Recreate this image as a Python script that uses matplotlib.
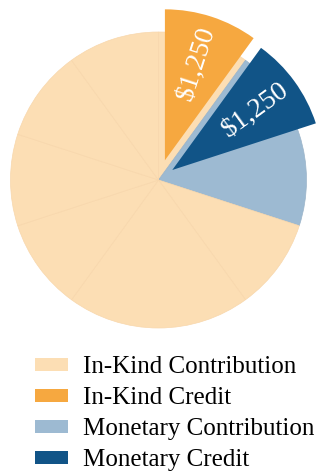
import numpy as np
import matplotlib
matplotlib.use("Agg")
import matplotlib.pyplot as plt
from matplotlib.patches import Patch
from matplotlib.colors import to_rgb

plt.rcParams['font.family'] = ['Liberation Serif', 'DejaVu Serif']

# slices of the full pie, clockwise from 12 o'clock
slice_kind = ['In-Kind Contribution', 'Monetary Contribution', 'In-Kind Contribution',
              'In-Kind Contribution', 'In-Kind Contribution', 'In-Kind Contribution',
              'In-Kind Contribution', 'In-Kind Contribution']
slice_values = [1250, 2500, 1250, 2500, 1250, 1250, 1250, 1250]

# credits pulled out of the pie
credit_labels = ['In-Kind Credit', 'Monetary Credit']
credit_values = [1250, 1250]

legend_labels = ['In-Kind Contribution', 'In-Kind Credit',
                 'Monetary Contribution', 'Monetary Credit']
colors = {
    'In-Kind Contribution': '#FCDEB4',
    'In-Kind Credit': '#F6A840',
    'Monetary Contribution': '#9DBAD2',
    'Monetary Credit': '#115487',
}

W, H = 320, 471
cx, cy, R = 158.5, 180, 148   # pie centre / radius in pixels (y from top)

fig = plt.figure(figsize=(W / 100, H / 100), dpi=100)
ax = fig.add_axes([0, 0, 1, 1])

base, _ = ax.pie(slice_values, colors=[colors[k] for k in slice_kind],
                 startangle=90, counterclock=False, radius=1.0,
                 wedgeprops=dict(linewidth=0.5))
for w in base:
    r, g, b = to_rgb(w.get_facecolor())
    w.set_edgecolor((r * 0.985, g * 0.97, b * 0.955))

total = sum(slice_values)
rest = total - sum(credit_values)
over, _ = ax.pie(credit_values + [rest],
                 colors=[colors[c] for c in credit_labels] + ['none'],
                 explode=[0.14, 0.115, 0],
                 startangle=90, counterclock=False, radius=1.02,
                 wedgeprops=dict(linewidth=0))
over[-1].set_visible(False)

for w, v in zip(over[:-1], credit_values):
    mid = np.deg2rad((w.theta1 + w.theta2) / 2)
    ox, oy = w.center
    d = 0.69
    ax.text(ox + d * np.cos(mid), oy + d * np.sin(mid), f"${v:,}",
            rotation=np.rad2deg(mid), rotation_mode='anchor',
            ha='center', va='center', color='white', fontsize=20)

# pie() resets the limits, so place the pie afterwards
ax.set_xlim(-cx / R, (W - cx) / R)
ax.set_ylim(-(H - cy) / R, cy / R)
ax.set_aspect('equal')
ax.axis('off')

handles = [Patch(facecolor=colors[l], edgecolor='none') for l in legend_labels]
fig.legend(handles, legend_labels, loc='upper left',
           bbox_to_anchor=(35 / W, 1 - 356 / H), frameon=False,
           fontsize=18, handlelength=1.32, handleheight=0.42,
           handletextpad=0.6, labelspacing=0.36, borderpad=0,
           borderaxespad=0)

fig.savefig('out.png', dpi=100)
